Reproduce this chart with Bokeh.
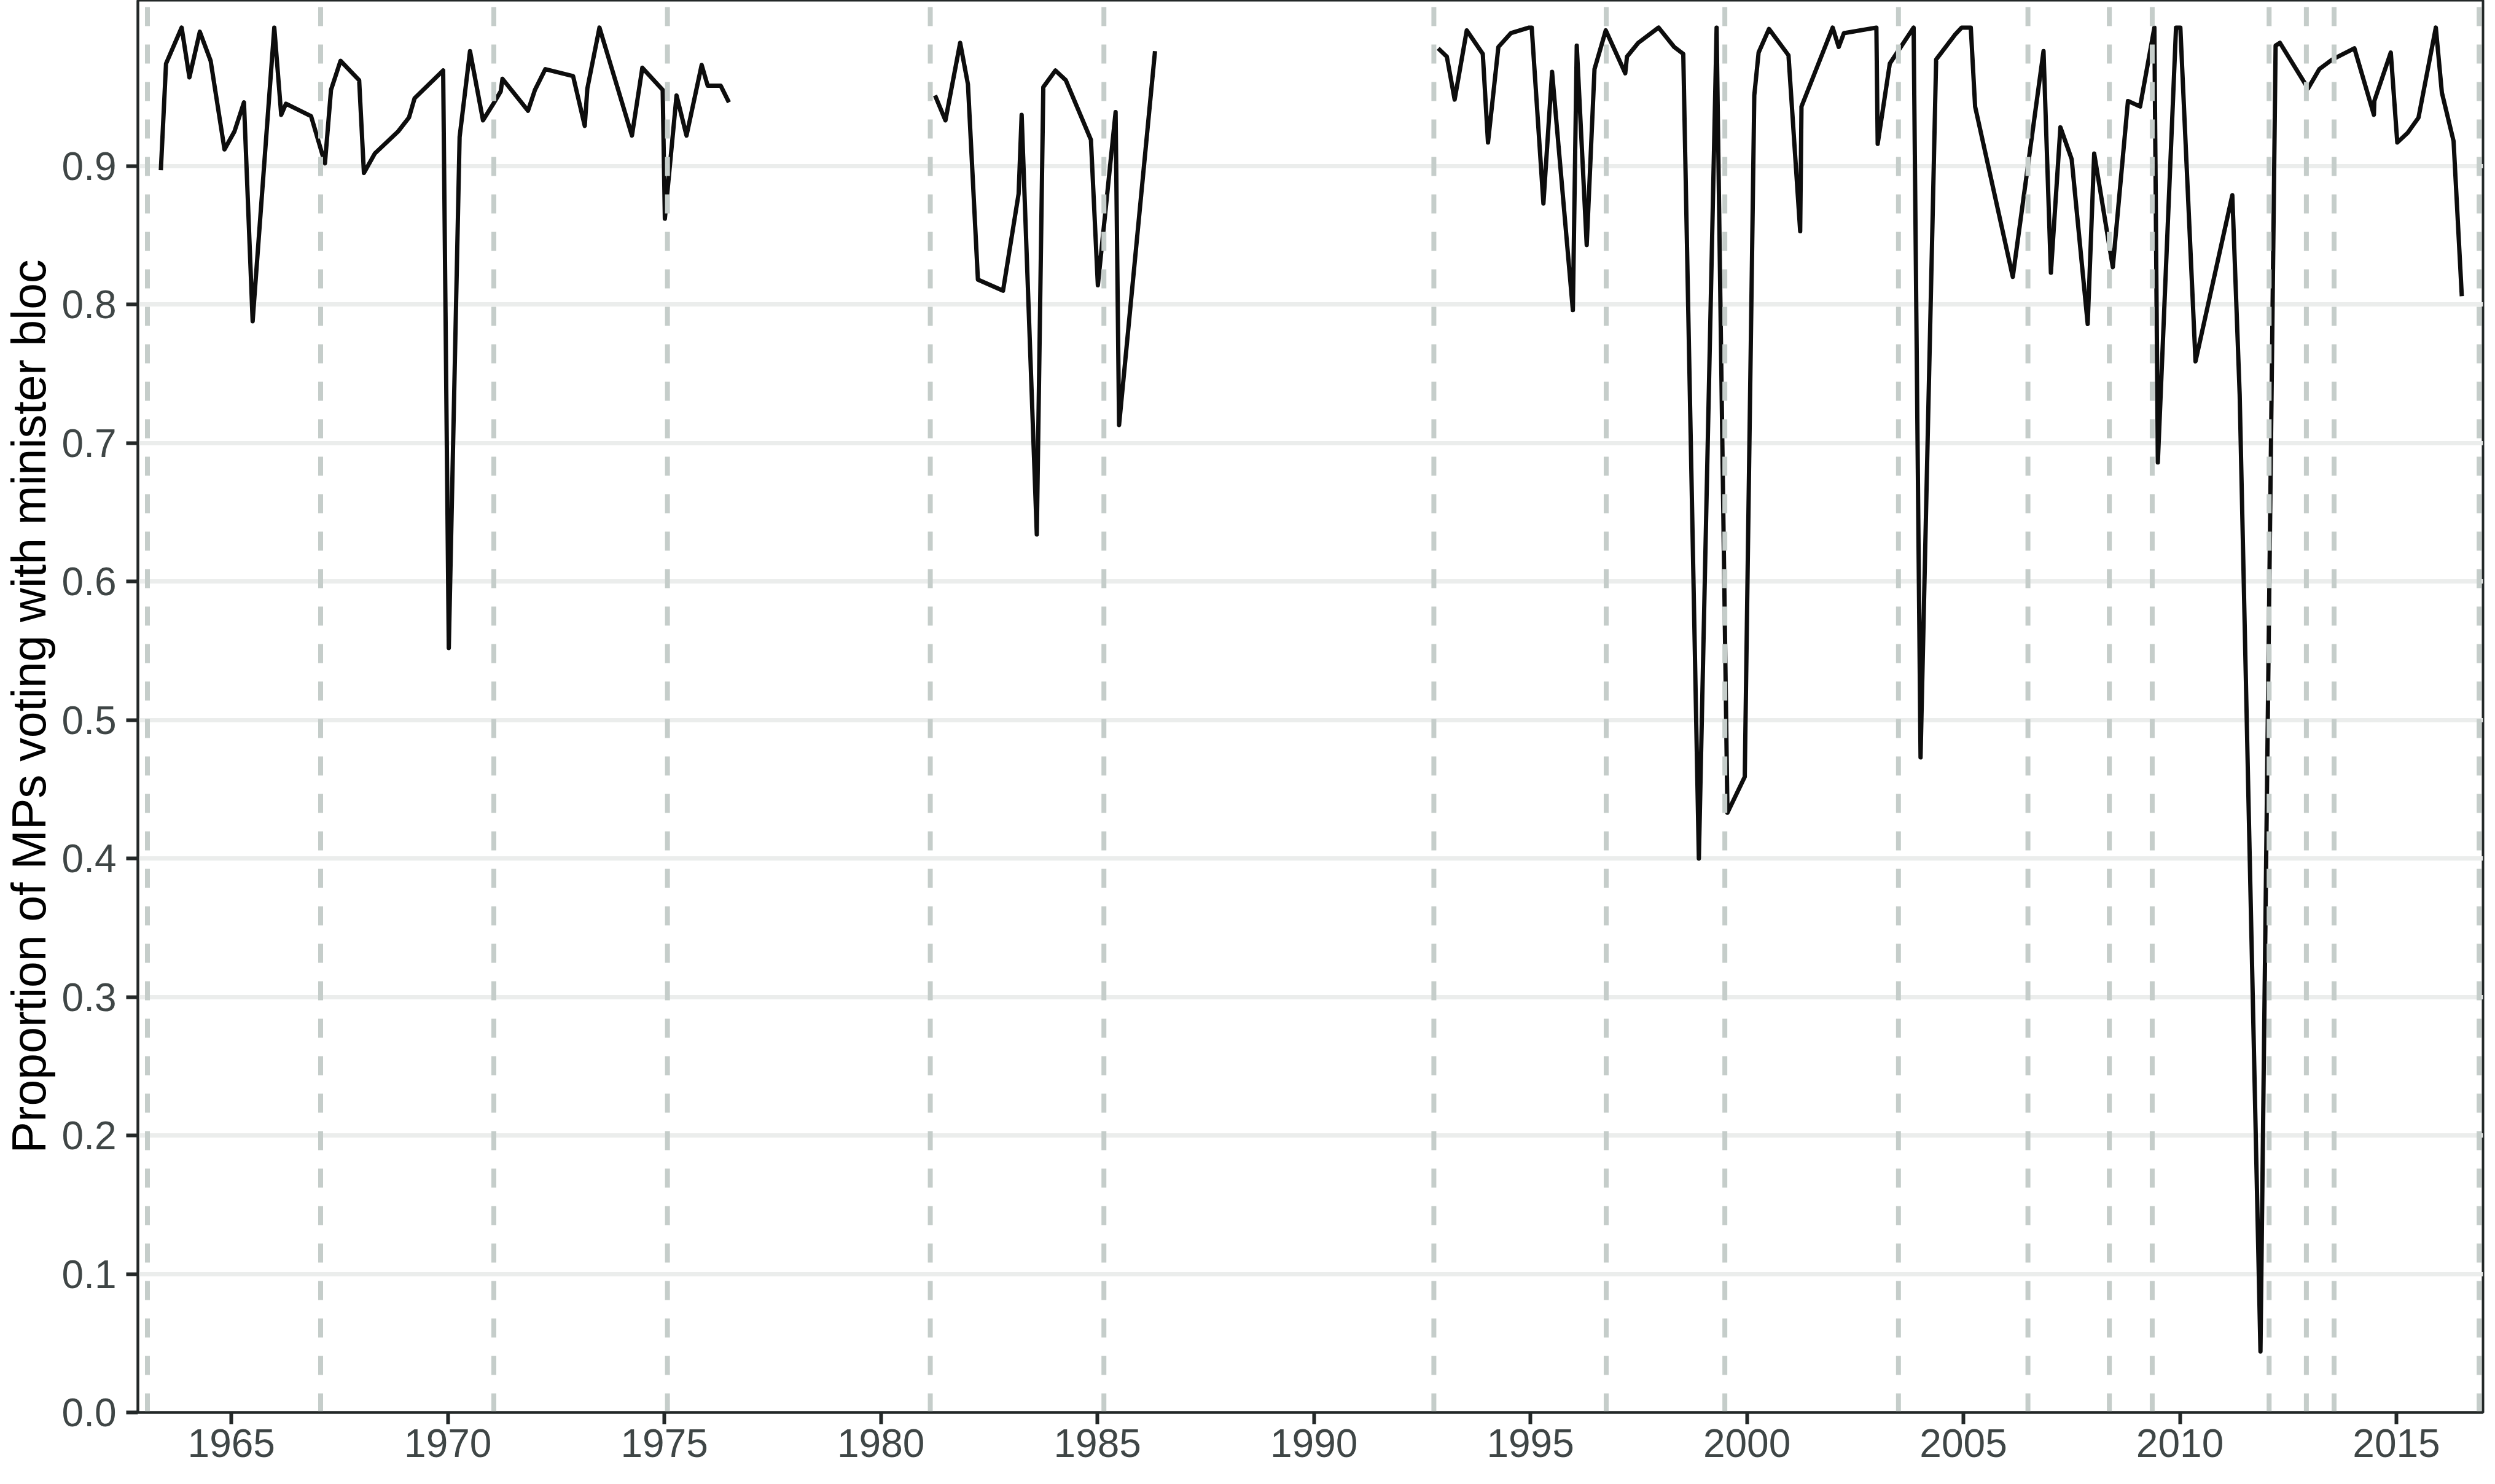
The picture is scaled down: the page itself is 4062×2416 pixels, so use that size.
import numpy as np
from bokeh.plotting import figure
from bokeh.models import Range1d, FixedTicker, ColumnDataSource
from bokeh.embed import file_html
from bokeh.resources import INLINE

# ---- data ----
seg1_years = [1963.37, 1963.49, 1963.85, 1964.03, 1964.27, 1964.52, 1964.84, 1965.07, 1965.29, 1965.49,
              1965.99, 1966.15, 1966.26, 1966.84, 1967.16, 1967.30, 1967.52, 1967.95, 1968.06, 1968.31,
              1968.85, 1969.10, 1969.23, 1969.89, 1970.02, 1970.27, 1970.51, 1970.81, 1971.05, 1971.22,
              1971.26, 1971.85, 1972.01, 1972.25, 1972.89, 1973.16, 1973.22, 1973.50, 1974.25, 1974.49,
              1974.96, 1975.01, 1975.28, 1975.51, 1975.86, 1976.00, 1976.30, 1976.49]
seg1_share = [0.897, 0.974, 1.000, 0.964, 0.997, 0.976, 0.912, 0.925, 0.946, 0.788,
              1.000, 0.937, 0.945, 0.936, 0.902, 0.955, 0.976, 0.962, 0.895, 0.909,
              0.925, 0.935, 0.949, 0.969, 0.552, 0.921, 0.983, 0.933, 0.945, 0.954,
              0.963, 0.940, 0.955, 0.970, 0.965, 0.929, 0.956, 1.000, 0.922, 0.971,
              0.955, 0.862, 0.951, 0.922, 0.973, 0.958, 0.958, 0.946]

seg2_years = [1981.25, 1981.49, 1981.83, 1982.01, 1982.24, 1982.82, 1983.18, 1983.25, 1983.60, 1983.75,
              1984.03, 1984.27, 1984.85, 1985.01, 1985.42, 1985.50, 1986.33]
seg2_share = [0.951, 0.933, 0.989, 0.959, 0.818, 0.810, 0.880, 0.937, 0.634, 0.957,
              0.969, 0.962, 0.919, 0.814, 0.939, 0.713, 0.983]

seg3_years = [1992.87, 1993.07, 1993.25, 1993.53, 1993.90, 1994.02, 1994.26, 1994.55, 1994.97, 1995.03,
              1995.30, 1995.50, 1995.98, 1996.07, 1996.30, 1996.48, 1996.74, 1997.19, 1997.23, 1997.49,
              1997.96, 1998.32, 1998.53, 1998.89, 1999.30, 1999.55, 1999.95, 2000.17, 2000.27, 2000.51,
              2000.96, 2001.23, 2001.26, 2001.98, 2002.12, 2002.24, 2002.99, 2003.02, 2003.30, 2003.85,
              2004.01, 2004.37, 2004.81, 2004.96, 2005.17, 2005.27, 2006.14, 2006.85, 2007.02, 2007.24,
              2007.50, 2007.87, 2008.02, 2008.45, 2008.80, 2009.08, 2009.41, 2009.49, 2009.91, 2010.01,
              2010.36, 2011.21, 2011.38, 2011.86, 2012.21, 2012.31, 2012.96, 2013.22, 2013.52, 2014.03,
              2014.48, 2014.49, 2014.87, 2015.02, 2015.26, 2015.51, 2015.91, 2016.05, 2016.32, 2016.51]
seg3_share = [0.985, 0.979, 0.948, 0.998, 0.981, 0.917, 0.986, 0.996, 1.000, 1.000,
              0.873, 0.968, 0.796, 0.987, 0.843, 0.970, 0.998, 0.967, 0.979, 0.989,
              1.000, 0.986, 0.981, 0.400, 1.000, 0.433, 0.459, 0.951, 0.982, 0.999,
              0.980, 0.853, 0.943, 1.000, 0.986, 0.996, 1.000, 0.916, 0.974, 1.000,
              0.473, 0.977, 0.995, 1.000, 1.000, 0.943, 0.820, 0.983, 0.823, 0.928,
              0.905, 0.786, 0.909, 0.827, 0.947, 0.943, 1.000, 0.686, 1.000, 1.000,
              0.759, 0.879, 0.735, 0.044, 0.987, 0.989, 0.956, 0.970, 0.977, 0.985,
              0.937, 0.947, 0.982, 0.917, 0.924, 0.935, 1.000, 0.953, 0.918, 0.806]

elections = [1963.06, 1967.06, 1971.06, 1975.07, 1981.14, 1985.15, 1992.77, 1996.75, 1999.49,
             2003.50, 2006.49, 2008.37, 2009.36, 2012.06, 2012.92, 2013.56, 2016.91]

x_ticks = [1965, 1970, 1975, 1980, 1985, 1990, 1995, 2000, 2005, 2010, 2015]
x_tick_labels = ["1965", "1970", "1975", "1980", "1985", "1990", "1995", "2000", "2005", "2010", "2015"]
y_ticks = [0.0, 0.1, 0.2, 0.3, 0.4, 0.5, 0.6, 0.7, 0.8, 0.9]
y_tick_labels = ["0.0", "0.1", "0.2", "0.3", "0.4", "0.5", "0.6", "0.7", "0.8", "0.9"]

y_label = "Proportion of MPs voting with minister bloc"

# ---- build ----
nan = float("nan")
years = seg1_years + [nan] + seg2_years + [nan] + seg3_years
share = seg1_share + [nan] + seg2_share + [nan] + seg3_share

X0, X1 = 1962.84, 2017.0
Y0, Y1 = 0.0, 1.0197

p = figure(width=4046, height=2400, output_backend="svg", toolbar_location=None,
           x_range=Range1d(X0, X1), y_range=Range1d(Y0, Y1),
           min_border_left=221, min_border_right=4, min_border_top=0, min_border_bottom=101)

p.background_fill_color = "white"
p.border_fill_color = "white"
p.outline_line_color = "#232828"
p.outline_line_width = 4

p.xgrid.grid_line_color = None
p.ygrid.grid_line_color = "#EBEDEC"
p.ygrid.grid_line_width = 7

p.line(years, share, line_color="#0D0D0D", line_width=7, line_join="round")

vsrc = ColumnDataSource(dict(x=elections, y0=[Y0] * len(elections), y1=[Y1] * len(elections)))
p.segment(x0="x", y0="y0", x1="x", y1="y1", source=vsrc,
          line_color="#C5CDCA", line_width=8, line_dash="31 30")

font = "Liberation Sans"
lab_color = "#3F4646"

xa = p.xaxis[0]
xa.ticker = FixedTicker(ticks=x_ticks)
xa.major_label_overrides = {t: l for t, l in zip(x_ticks, x_tick_labels)}
ya = p.yaxis[0]
ya.ticker = FixedTicker(ticks=y_ticks)
ya.major_label_overrides = {t: l for t, l in zip(y_ticks, y_tick_labels)}

for ax in (xa, ya):
    ax.axis_line_color = "#232828"
    ax.axis_line_width = 4
    ax.major_tick_line_color = "#232828"
    ax.major_tick_line_width = 6
    ax.major_tick_out = 19
    ax.major_tick_in = 0
    ax.minor_tick_line_color = None
    ax.major_label_text_font = font
    ax.major_label_text_font_size = "64px"
    ax.major_label_text_color = lab_color

xa.major_label_standoff = 8
ya.major_label_standoff = 16

ya.axis_label = y_label
ya.axis_label_text_font = font
ya.axis_label_text_font_size = "77px"
ya.axis_label_text_font_style = "normal"
ya.axis_label_text_color = "#000000"
ya.axis_label_standoff = 8

open("out.html", "w").write(file_html(p, INLINE))
